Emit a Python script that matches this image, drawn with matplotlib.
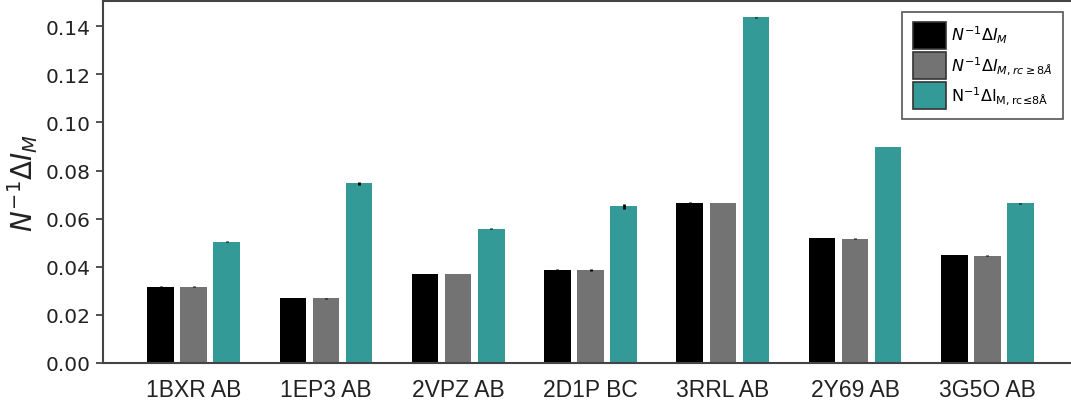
import matplotlib
matplotlib.use("Agg")
import matplotlib.pyplot as plt
import numpy as np

complexes = ["1BXR AB", "1EP3 AB", "2VPZ AB", "2D1P BC", "3RRL AB", "2Y69 AB", "3G5O AB"]
total = [0.0318, 0.0270, 0.0370, 0.0388, 0.0667, 0.0518, 0.0448]
long_range = [0.0318, 0.0270, 0.0370, 0.0387, 0.0665, 0.0517, 0.0446]
short_range = [0.0505, 0.0747, 0.0559, 0.0652, 0.1437, 0.0898, 0.0664]
total_err = [0.0002, 0.0002, 0.0002, 0.0003, 0.0001, 0.0001, 0.0002]
long_err = [0.0002, 0.0002, 0.0002, 0.0003, 0.0001, 0.0001, 0.0002]
short_err = [0.0003, 0.0005, 0.0002, 0.0010, 0.0001, 0.0001, 0.0002]

labels = [r"$N^{-1}\Delta I_M$",
          r"$N^{-1}\Delta I_{M,rc\geq8Å}$",
          r"N$^{\mathregular{-1}}$ΔI$_{\mathregular{M,rc≤8Å}}$"]
colors = ["#000000", "#737373", "#339a98"]

x = np.arange(len(complexes))
w = 0.2
off = 0.25

fig = plt.figure(figsize=(10.71, 4.14), dpi=100)
ax = fig.add_axes([103 / 1071, 50 / 414, 975 / 1071, 362 / 414])

for i, (vals, errs) in enumerate([(total, total_err), (long_range, long_err), (short_range, short_err)]):
    ax.bar(x + (i - 1) * off, vals, w, yerr=errs, color=colors[i], label=labels[i],
           error_kw=dict(ecolor="black", elinewidth=2, capsize=0))

ax.set_xlim(-0.685, 6.685)
ax.set_ylim(0, 0.1505)
ticks = np.arange(0, 0.141, 0.02)
ax.set_yticks(ticks)
ax.set_yticklabels([f"{v:.2f}" for v in ticks], fontsize=14.5, color="#222222")
ax.set_xticks(x)
ax.set_xticklabels(complexes, fontsize=16.5, family="Liberation Sans", color="#222222")
ax.tick_params(axis="x", length=0, pad=11)
ax.tick_params(axis="y", length=5, width=1.3, color="#444444", pad=4)
ax.set_ylabel(r"$N^{-1}\Delta I_M$", fontsize=20, color="#222222", labelpad=4)
for s in ax.spines.values():
    s.set_color("#444444")
    s.set_linewidth(1.5)

leg = ax.legend(loc="upper right", bbox_to_anchor=(0.9846, 0.9696), fontsize=11.5,
                handlelength=2.1, handleheight=2.2, handletextpad=0.3,
                labelspacing=0.2, borderpad=0.65, borderaxespad=0,
                fancybox=False, framealpha=1)
leg.get_frame().set_edgecolor("#555555")
leg.get_frame().set_linewidth(1.2)
for h in leg.legend_handles:
    h.set_edgecolor("#333333")
    h.set_linewidth(1.2)

fig.savefig("out.png", dpi=100)
